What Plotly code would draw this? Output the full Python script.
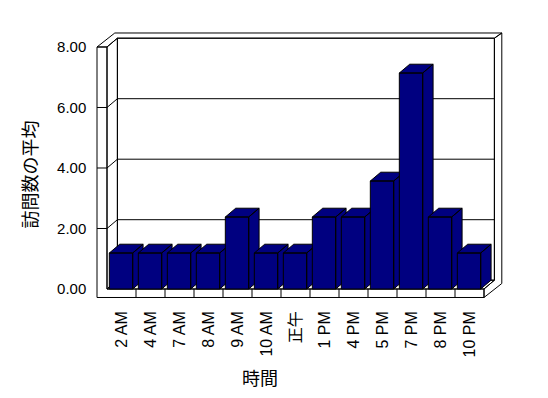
import plotly.graph_objects as go

# ---- data ----
categories = ["2 AM", "4 AM", "7 AM", "8 AM", "9 AM", "10 AM", "正午",
              "1 PM", "4 PM", "5 PM", "7 PM", "8 PM", "10 PM"]
values = [1.19, 1.19, 1.19, 1.19, 2.38, 1.19, 1.19,
          2.38, 2.38, 3.57, 7.14, 2.38, 1.19]
y_ticks = [0, 2, 4, 6, 8]
y_ticktext = ["%.2f" % v for v in y_ticks]
x_title = "時間"
y_title = "訪問数の平均"

# ---- geometry (pixel scale of the axes) ----
W, H = 548, 398
PXU, PYU = 29.0, 30.25          # px per x unit / per y unit
X0PX, Y0PX = 107.0, 289.0        # px of x=-0.5 / y=0
n = len(categories)
L, R, YT = -0.5, n - 0.5, max(y_ticks)
dx, dy = 10.4 / PXU, 8.8 / PYU   # depth
tx, ty = 7.4 / PXU, 5.2 / PYU    # back wall thickness
lw, ft = 10.0 / PXU, 8.5 / PYU   # left wall / floor thickness
bw_lo, bw_hi = 0.42, 0.386       # bar front extent around centre

xlo, xhi = L - lw - 0.06, R + dx + tx + 0.06
ylo, yhi = -ft - 0.05, YT + dy + ty + 0.05

def pxx(u):
    return X0PX + (u + 0.5) * PXU

def pyy(v):
    return Y0PX - v * PYU

NAVY = "#000080"
fig = go.Figure()

def poly_trace(polys, fill, lw_=1):
    xs, ys = [], []
    for p in polys:
        for (a, b) in p:
            xs.append(a); ys.append(b)
        xs.append(p[0][0]); ys.append(p[0][1])
        xs.append(None); ys.append(None)
    return go.Scatter(x=xs, y=ys, mode="lines", fill="toself" if fill else None,
                      fillcolor=fill, line=dict(color="black", width=lw_),
                      hoverinfo="skip", showlegend=False)

# frame
frame = [
    [(L - lw, -ft), (L - lw, YT), (L, YT), (L, 0), (R, 0), (R, -ft)],
    [(L - lw, YT), (L, YT), (L + dx, YT + dy), (R + dx, YT + dy),
     (R + dx + tx, YT + dy + ty), (L - lw + dx + tx, YT + dy + ty)],
    [(R + dx, YT + dy), (R + dx + tx, YT + dy + ty), (R + dx + tx, -ft + dy + ty),
     (R, -ft), (R, 0), (R + dx, dy)],
    [(L, YT), (L + dx, YT + dy), (L + dx, dy), (L, 0)],
    [(L, 0), (L + dx, dy), (R + dx, dy), (R, 0)],
    [(L + dx, dy), (R + dx, dy), (R + dx, YT + dy), (L + dx, YT + dy)],
]
fig.add_trace(poly_trace(frame, "white"))

# gridlines
gx, gy = [], []
for v in y_ticks[1:-1]:
    gx += [L - lw, L, L + dx, R + dx, None]
    gy += [v, v, v + dy, v + dy, None]
for i in range(n - 1):
    b = i + 0.5
    gx += [b, b, None]
    gy += [-ft, 0, None]
fig.add_trace(go.Scatter(x=gx, y=gy, mode="lines", line=dict(color="black", width=1),
                         hoverinfo="skip", showlegend=False))

# bars
for i, v in enumerate(values):
    lo, hi = i - bw_lo, i + bw_hi
    side = [(hi, 0), (hi + dx, dy), (hi + dx, v + dy), (hi, v)]
    top = [(lo, v), (hi, v), (hi + dx, v + dy), (lo + dx, v + dy)]
    front = [(lo, 0), (hi, 0), (hi, v), (lo, v)]
    fig.add_trace(poly_trace([side, top, front], NAVY))

LAT = "Liberation Sans, Arial, Noto Sans CJK JP"
CJK = "Noto Sans CJK JP"

fig.update_layout(
    width=W, height=H, margin=dict(l=0, r=0, t=0, b=0),
    paper_bgcolor="white", plot_bgcolor="white", showlegend=False,
    xaxis=dict(range=[xlo, xhi], domain=[pxx(xlo) / W, pxx(xhi) / W],
               showgrid=False, zeroline=False, showline=False, ticks="",
               tickmode="array", tickvals=list(range(n)), ticktext=categories,
               tickangle=-90, tickfont=dict(family=LAT, size=16, color="black"),
               ticklabelstandoff=8, fixedrange=True),
    yaxis=dict(range=[ylo, yhi], domain=[(H - pyy(ylo)) / H, (H - pyy(yhi)) / H],
               showgrid=False, zeroline=False, showline=False, ticks="",
               tickmode="array", tickvals=y_ticks, ticktext=y_ticktext,
               tickfont=dict(family=LAT, size=15, color="black"),
               ticklabelstandoff=8, fixedrange=True),
    annotations=[
        dict(text=y_title, x=28.5 / W, y=(H - 175) / H, xref="paper", yref="paper",
             showarrow=False, textangle=-90, font=dict(family=CJK, size=18, color="black"),
             xanchor="center", yanchor="middle"),
        dict(text=x_title, x=260 / W, y=(H - 377) / H, xref="paper", yref="paper",
             showarrow=False, font=dict(family=CJK, size=18, color="black"),
             xanchor="center", yanchor="middle"),
    ],
)

fig.write_html("out.html")
